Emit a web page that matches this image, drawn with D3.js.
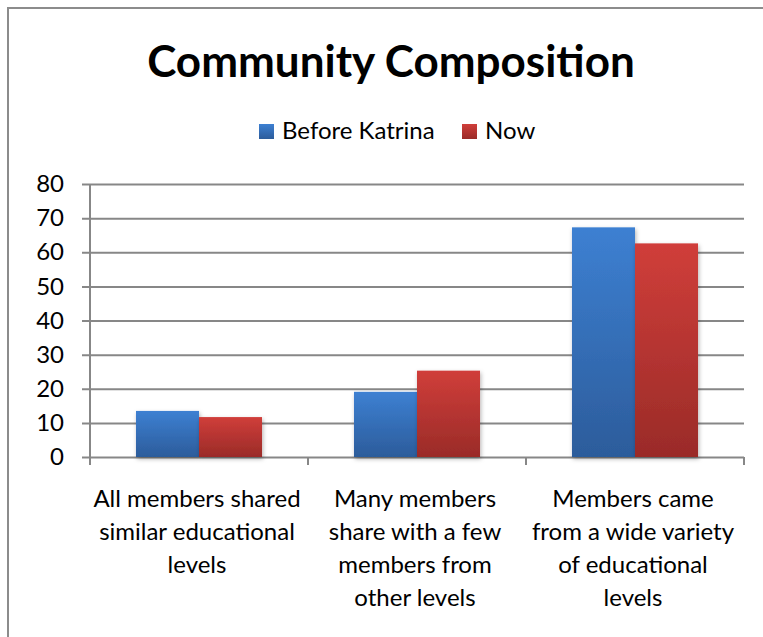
<!DOCTYPE html>
<html lang="en">
<head>
  <meta charset="utf-8">
  <title>Community Composition</title>
  <script src="https://d3js.org/d3.v7.min.js"></script>
  <style>
    body { margin: 0; background: #fff; }
    text { font-family: Lato, "Open Sans", sans-serif; fill: #000; }
  </style>
</head>
<body>
<script>
// data
var categories = [
  ["All members shared", "similar educational", "levels"],
  ["Many members", "share with a few", "members from", "other levels"],
  ["Members came", "from a wide variety", "of educational", "levels"]
];
var seriesNames = ["Before Katrina", "Now"];
var beforeKatrina = [13.5, 19.1, 67.3];
var now = [11.7, 25.3, 62.6];
var yTicks = [0, 10, 20, 30, 40, 50, 60, 70, 80];

var w = 763, h = 637;
var plotLeft = 90, plotRight = 744, plotTop = 184, plotBottom = 457;

var svg = d3.select("body").append("svg")
  .attr("width", w)
  .attr("height", h);

// gradients for bars
var defs = svg.append("defs");
var grads = [
  {id: "gBlue", top: "#3d80d2", bot: "#2c5c9b"},
  {id: "gRed", top: "#d03e3a", bot: "#9a2b28"}
];
grads.forEach(function(g) {
  var lg = defs.append("linearGradient")
    .attr("id", g.id).attr("x1", 0).attr("y1", 0).attr("x2", 0).attr("y2", 1);
  lg.append("stop").attr("offset", "0%").attr("stop-color", g.top);
  lg.append("stop").attr("offset", "100%").attr("stop-color", g.bot);
});
var shadow = defs.append("filter").attr("id", "shadow")
  .attr("x", "-20%").attr("y", "-10%").attr("width", "140%").attr("height", "130%");
shadow.append("feDropShadow")
  .attr("dx", 1).attr("dy", 2).attr("stdDeviation", 2)
  .attr("flood-color", "#000").attr("flood-opacity", 0.3);

// outer frame
svg.append("rect")
  .attr("x", 8).attr("y", 8)
  .attr("width", 800).attr("height", 700)
  .attr("fill", "none")
  .attr("stroke", "#8c8c8c")
  .attr("stroke-width", 2);

// title
svg.append("text")
  .attr("x", 391).attr("y", 77)
  .attr("text-anchor", "middle")
  .style("font-size", "44px")
  .style("font-weight", "bold")
  .text("Community Composition");

// scales
var x = d3.scaleBand()
  .domain(d3.range(categories.length))
  .range([plotLeft, plotRight])
  .padding(0);

var xInner = d3.scaleBand()
  .domain(seriesNames)
  .range([0, x.bandwidth()])
  .paddingInner(0)
  .paddingOuter(0.73);

var y = d3.scaleLinear()
  .domain([0, 80])
  .range([plotBottom, plotTop]);

// gridlines + y axis
var yAxis = d3.axisLeft(y)
  .tickValues(yTicks)
  .tickSize(-(plotRight - plotLeft))
  .tickPadding(26)
  .tickSizeOuter(0);

var gy = svg.append("g")
  .attr("transform", "translate(" + plotLeft + ",0)")
  .call(yAxis);
gy.select(".domain").remove();
gy.selectAll(".tick line")
  .attr("x1", -8)
  .attr("stroke", "#878787")
  .attr("stroke-width", 2);
gy.selectAll(".tick text")
  .style("font-size", "24px")
  .attr("font-family", null)
  .attr("fill", "#000");

// y axis line
svg.append("line")
  .attr("x1", plotLeft).attr("x2", plotLeft)
  .attr("y1", plotTop).attr("y2", plotBottom + 8)
  .attr("stroke", "#878787")
  .attr("stroke-width", 2);

// category ticks
var catTicks = d3.range(categories.length + 1).map(function(i) {
  return plotLeft + i * x.step();
});
svg.selectAll(".cat-tick")
  .data(catTicks)
  .enter().append("line")
  .attr("class", "cat-tick")
  .attr("x1", function(d) { return d; })
  .attr("x2", function(d) { return d; })
  .attr("y1", plotBottom)
  .attr("y2", plotBottom + 8)
  .attr("stroke", "#878787")
  .attr("stroke-width", 2);

// bars
var series = [
  {name: seriesNames[0], values: beforeKatrina, fill: "url(#gBlue)"},
  {name: seriesNames[1], values: now, fill: "url(#gRed)"}
];

var groups = svg.selectAll(".series")
  .data(series)
  .enter().append("g")
  .attr("class", "series")
  .attr("filter", "url(#shadow)");

groups.selectAll("rect")
  .data(function(s) {
    return s.values.map(function(v, i) { return {name: s.name, v: v, i: i, fill: s.fill}; });
  })
  .enter().append("rect")
  .attr("x", function(d) { return x(d.i) + xInner(d.name); })
  .attr("y", function(d) { return y(d.v); })
  .attr("width", xInner.bandwidth())
  .attr("height", function(d) { return y(0) - y(d.v); })
  .attr("fill", function(d) { return d.fill; });

// category labels
var labels = svg.selectAll(".cat-label")
  .data(categories)
  .enter().append("text")
  .attr("class", "cat-label")
  .attr("text-anchor", "middle")
  .style("font-size", "24px");

labels.selectAll("tspan")
  .data(function(d, i) { return d.map(function(t) { return {t: t, i: i}; }); })
  .enter().append("tspan")
  .attr("x", function(d) { return x(d.i) + x.bandwidth() / 2 - 2; })
  .attr("y", function(d, j) { return 507 + j * 33; })
  .text(function(d) { return d.t; });

// legend
var legendItems = [
  {name: seriesNames[0], fill: "url(#gBlue)", x: 259},
  {name: seriesNames[1], fill: "url(#gRed)", x: 462}
];
var lg = svg.selectAll(".legend")
  .data(legendItems)
  .enter().append("g")
  .attr("class", "legend")
  .attr("transform", function(d) { return "translate(" + d.x + ",124)"; });
lg.append("rect")
  .attr("width", 15).attr("height", 15)
  .attr("fill", function(d) { return d.fill; });
lg.append("text")
  .attr("x", 23).attr("y", 15)
  .style("font-size", "24px")
  .text(function(d) { return d.name; });
</script>
</body>
</html>
